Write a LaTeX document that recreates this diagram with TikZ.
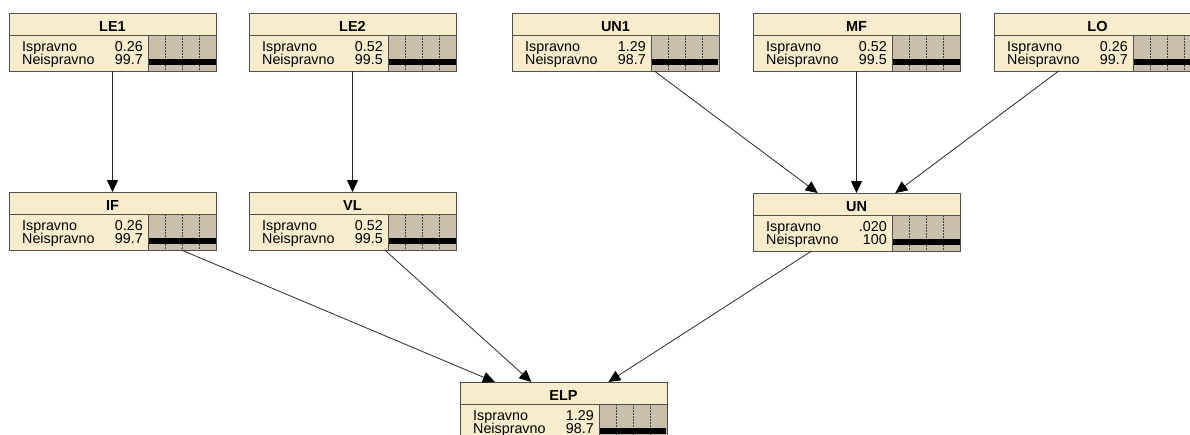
\documentclass[tikz,border=0pt]{standalone}
\usepackage{fontspec}
\setmainfont{Liberation Sans}
\usetikzlibrary{arrows.meta}
\definecolor{cream}{RGB}{247,236,204}
\definecolor{barbg}{RGB}{201,191,170}
\definecolor{bord}{RGB}{80,80,80}
\definecolor{edgec}{RGB}{40,40,40}
\tikzset{
  bnbox/.style={rectangle, draw=bord, fill=cream, line width=0.9pt, minimum width=207pt, minimum height=58pt, inner sep=0pt, outer sep=0pt, anchor=north west},
  titletxt/.style={font=\fontsize{14.5}{14.5}\selectfont\bfseries, inner sep=0pt, anchor=base},
  rowtxt/.style={font=\fontsize{14.3}{14.3}\selectfont, inner sep=0pt, anchor=base west},
  valtxt/.style={font=\fontsize{14.3}{14.3}\selectfont, inner sep=0pt, anchor=base east},
  gridln/.style={draw=black!75, line width=0.6pt, dash pattern=on 1.5pt off 1.5pt},
  conn/.style={draw=edgec, line width=0.8pt, -{Triangle[length=12pt,width=11pt,color=black,fill=black]}}
}
\newcommand{\bnode}[8]{%
  \node[bnbox] (#1) at (#2,#3) {};
  \begin{scope}[shift={(#2,#3)}]
    \fill[barbg] (139,22) rectangle (207,58);
    \foreach \gx in {156,173,190} {\draw[gridln] (\gx,22) -- (\gx,58);}
    \fill[black] (139,32.5) rectangle ({139+0.68*#7},39);
    \fill[black] (139,45.5) rectangle ({139+0.68*#8},52);
    \draw[bord, line width=0.9pt] (0,22) -- (207,22);
    \draw[bord, line width=0.9pt] (139,22) -- (139,58);
    \node[titletxt] (#1-t) at (103.5,18.5) {#4};
    \node[rowtxt] (#1-a) at (13,38) {Ispravno};
    \node[valtxt] (#1-av) at (134,38) {#5};
    \node[rowtxt] (#1-b) at (13,51) {Neispravno};
    \node[valtxt] (#1-bv) at (134,51) {#6};
    \draw[bord, line width=0.9pt] (0,0) rectangle (207,58);
  \end{scope}
}
\begin{document}
\begin{tikzpicture}[x=1pt,y=-1pt]
\useasboundingbox (0,0) rectangle (1190,434);
\fill[white] (0,0) rectangle (1190,434);
\clip (0,0) rectangle (1190,434);
\bnode{LE1}{9}{13}{LE1}{0.26}{99.7}{0.26}{99.7}
\bnode{LE2}{249}{13}{LE2}{0.52}{99.5}{0.52}{99.5}
\bnode{UN1}{512}{13}{UN1}{1.29}{98.7}{1.29}{98.7}
\bnode{MF}{753}{13}{MF}{0.52}{99.5}{0.52}{99.5}
\bnode{LO}{994}{13}{LO}{0.26}{99.7}{0.26}{99.7}
\bnode{IF}{9}{192}{IF}{0.26}{99.7}{0.26}{99.7}
\bnode{VL}{249}{192}{VL}{0.52}{99.5}{0.52}{99.5}
\bnode{UN}{753}{193}{UN}{.020}{100}{0.02}{100}
\bnode{ELP}{460}{382}{ELP}{1.29}{98.7}{1.29}{98.7}
\draw[conn] (LE1) -- (IF);
\draw[conn] (LE2) -- (VL);
\draw[conn] (UN1) -- (UN);
\draw[conn] (MF) -- (UN);
\draw[conn] (LO) -- (UN);
\draw[conn] (IF) -- (ELP);
\draw[conn] (VL) -- (ELP);
\draw[conn] (UN) -- (ELP);
\end{tikzpicture}
\end{document}
